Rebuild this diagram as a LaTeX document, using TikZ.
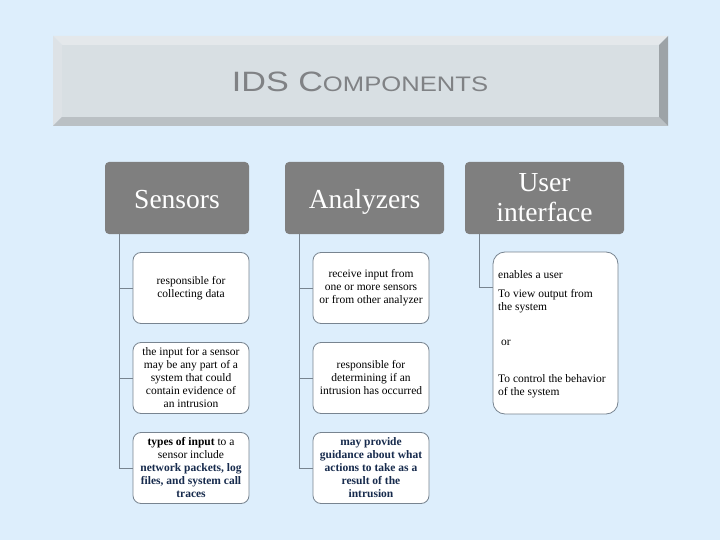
\documentclass[tikz,border=0pt]{standalone}
\usepackage{fontspec}
\usepackage{graphicx}
\setmainfont{Liberation Serif}
\newfontfamily\titlefont{Liberation Sans}
\definecolor{bgblue}{RGB}{221,238,252}
\definecolor{faceg}{RGB}{216,223,227}
\definecolor{topg}{RGB}{228,232,235}
\definecolor{leftg}{RGB}{221,226,230}
\definecolor{botg}{RGB}{186,192,196}
\definecolor{rightg}{RGB}{157,163,167}
\definecolor{titlegray}{RGB}{128,130,133}
\definecolor{headgray}{RGB}{127,127,127}
\definecolor{linegray}{RGB}{120,132,144}
\definecolor{navy}{RGB}{23,43,77}
\tikzset{
  headbox/.style={fill=headgray, rounded corners=4pt, minimum height=72pt, text=white,
    font=\fontsize{27.5}{30}\selectfont, align=center, inner sep=0pt},
  oneline/.style={text height=20pt, text depth=0pt},
  childbox/.style={draw=linegray, line width=0.8pt, fill=white, rounded corners=8pt,
    minimum width=116pt, minimum height=71pt, align=center, inner sep=0pt,
    font=\fontsize{11.5}{13}\selectfont},
  conn/.style={draw=linegray, line width=0.8pt},
  uitext/.style={anchor=base west, inner sep=0pt, font=\fontsize{11.5}{13}\selectfont}
}
\newcommand{\nb}[1]{\textbf{\color{navy}#1}}
\begin{document}
\begin{tikzpicture}[x=1pt,y=-1pt]
\fill[bgblue] (0,0) rectangle (720,540);
\useasboundingbox (0,0) rectangle (720,540);
% title banner
\fill[topg] (53,36) -- (668,36) -- (659,45) -- (62,45) -- cycle;
\fill[leftg] (53,36) -- (62,45) -- (62,117) -- (53,126) -- cycle;
\fill[botg] (53,126) -- (62,117) -- (659,117) -- (668,126) -- cycle;
\fill[rightg] (668,36) -- (668,126) -- (659,117) -- (659,45) -- cycle;
\fill[faceg] (62,45) rectangle (659,117);
\node[anchor=base, inner sep=0pt, text=titlegray] (title) at (360,92)
  {\titlefont\scalebox{1.22}[1]{\fontsize{28}{28}\selectfont IDS C\fontsize{21}{21}\selectfont OMPONENTS}};
% headers
\node[headbox, oneline, minimum width=144pt] (sens) at (177,198) {Sensors};
\node[headbox, oneline, minimum width=159pt] (anal) at (364.5,198) {Analyzers};
\node[headbox, minimum width=159pt] (ui) at (544.5,198) {User\\interface};
% sensors children
\node[childbox] (s1) at (191,288) {responsible for\\collecting data};
\node[childbox] (s2) at (191,378) {the input for a sensor\\may be any part of a\\system that could\\contain evidence of\\an intrusion};
\node[childbox] (s3) at (191,468) {\textbf{types of input} to a\\sensor include\\\nb{network packets, log}\\\nb{files, and system call}\\\nb{traces}};
% analyzers children
\node[childbox] (a1) at (371,288) {receive input from\\one or more sensors\\or from other analyzer};
\node[childbox] (a2) at (371,378) {responsible for\\determining if an\\intrusion has occurred};
\node[childbox] (a3) at (371,468) {\nb{may provide}\\\nb{guidance about what}\\\nb{actions to take as a}\\\nb{result of the}\\\nb{intrusion}};
% user interface child
\node[draw=linegray, line width=0.8pt, fill=white, rounded corners=12pt,
  minimum width=125pt, minimum height=162pt, inner sep=0pt] (u1) at (555.5,333) {};
\node[uitext] (u1a) at (498,278) {enables a user};
\node[uitext] (u1b) at (498,297) {To view output from};
\node[uitext] (u1c) at (498,310) {the system};
\node[uitext] (u1d) at (501,345) {or};
\node[uitext] (u1e) at (498,382) {To control the behavior};
\node[uitext] (u1f) at (498,395) {of the system};
% connectors
\coordinate (sl) at ([xshift=15pt]sens.south west);
\coordinate (al) at ([xshift=15pt]anal.south west);
\coordinate (ul) at ([xshift=15pt]ui.south west);
\draw[conn] (sl) |- (s3.west);
\draw[conn] (sl |- s1.west) -- (s1.west);
\draw[conn] (sl |- s2.west) -- (s2.west);
\draw[conn] (al) |- (a3.west);
\draw[conn] (al |- a1.west) -- (a1.west);
\draw[conn] (al |- a2.west) -- (a2.west);
\coordinate (uj) at (493,287);
\draw[conn] (ul) |- (uj);
\end{tikzpicture}
\end{document}
